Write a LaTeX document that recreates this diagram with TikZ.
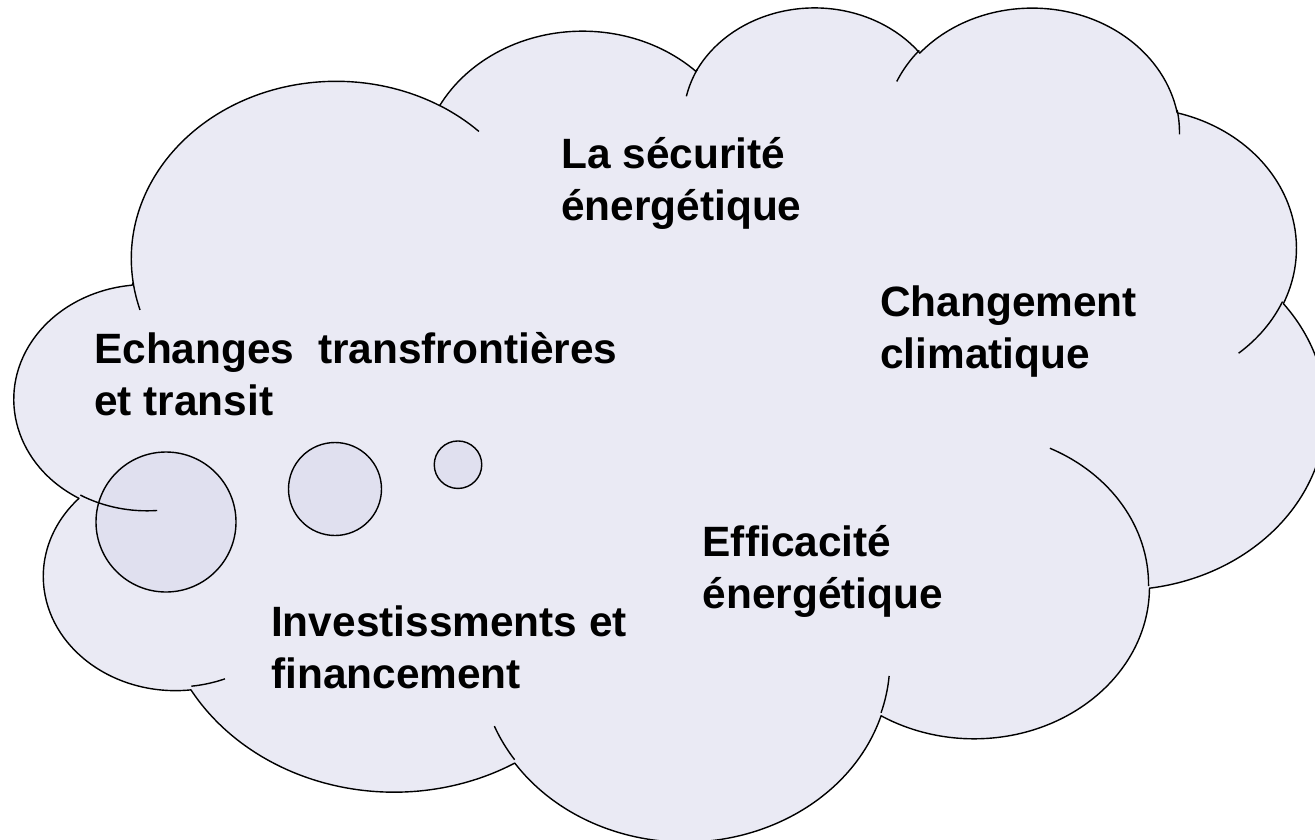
\documentclass[tikz,border=0pt]{standalone}
\usepackage{fontspec}
\setmainfont{Liberation Sans}
\definecolor{cloudfill}{RGB}{234,234,244}
\definecolor{bubblefill}{RGB}{224,224,239}
% shape frame (pixels): left, top, scale per path unit
\def\ox{14.9}\def\oy{5.2}\def\sx{0.030327}\def\sy{0.019302}
\def\sxh{3.0327}\def\syh{1.9302}
% OOXML arcTo: #1 wR, #2 hR, #3 start angle (visual), #4 swing
\newcommand\carc[4]{arc[start angle={0-atan2((#1)*sin(#3),(#2)*cos(#3))},
  delta angle={0-mod(atan2((#1)*sin((#3)+(#4)),(#2)*cos((#3)+(#4)))-atan2((#1)*sin(#3),(#2)*cos(#3))+720,360)},
  x radius={(#1)*\sx*1pt}, y radius={(#2)*\sy*1pt}]}
% point in path units / 100
\newcommand\cpt[2]{({\ox+\sxh*(#1)},{0-(\oy+\syh*(#2))})}
\tikzset{
  cloudline/.style={draw=black, line width=1.4pt, line join=round},
  bubble/.style={circle, draw=black, line width=1.4pt, fill=bubblefill, inner sep=0pt},
  label/.style={anchor=base west, align=left, inner sep=0pt,
    font=\fontsize{42.4}{52}\selectfont\bfseries, text=black},
}
\begin{document}
\begin{tikzpicture}[x=1pt,y=1pt]
\useasboundingbox (0,0) rectangle (1315,-839);
\clip (0,0) rectangle (1315,-839);
% cloud body
\path[cloudline, fill=cloudfill] \cpt{39.00}{143.70}
  \carc{6753}{9190}{-190.48748}{123.78053}
  \carc{5333}{7267}{-144.10238}{89.94523}
  \carc{4365}{5945}{-145.80792}{99.72302}
  \carc{4857}{6595}{-130.98607}{117.24173}
  \carc{5333}{7273}{-78.70888}{109.02692}
  \carc{6775}{9220}{-46.26725}{130.269}
  \carc{5785}{7867}{0.62502}{114.03333}
  \carc{6752}{9215}{22.4516}{115.17255}
  \carc{7720}{10543}{66.24263}{75.71102}
  \carc{4360}{5918}{-274.94208}{146.73557}
  \carc{4345}{5945}{-246.8285}{152.51885}
  -- cycle;
% thought bubbles
\node[bubble, minimum size=140pt] (b1) at (166,-522) {};
\node[bubble, minimum size=93pt] (b2) at (335,-489) {};
\node[bubble, minimum size=47.5pt] (b3) at (458,-464.7) {};
% inner arcs of the cloud
\draw[cloudline]
  \cpt{46.93}{261.77} \carc{4345}{5945}{86.742}{26.4295}
  \cpt{69.28}{348.99} \carc{4360}{5918}{73.6105}{11.4475}
  \cpt{164.78}{390.90} \carc{6752}{9215}{137.6242}{14.0811}
  \cpt{288.27}{347.51} \carc{6752}{9215}{6.4533}{15.9984}
  \cpt{341.29}{229.54} \carc{5785}{7867}{-70.2924}{70.9174}
  \cpt{417.98}{153.54} \carc{5333}{7273}{30.318}{27.7515}
  \cpt{383.24}{54.26} \carc{4857}{6595}{-13.7443}{14.8576}
  \cpt{290.78}{39.52} \carc{4857}{6595}{-149.1815}{18.1954}
  \cpt{221.41}{47.20} \carc{4365}{5945}{-163.4943}{17.6864}
  \cpt{140.00}{51.92} \carc{6753}{9190}{-66.707}{12.3194}
  \cpt{41.27}{157.89} \carc{6753}{9190}{157.6544}{11.8582};
% texts (anchor = baseline of the last line)
\node[label] (secu) at (561,-220) {La sécurité\\énergétique};
\node[label] (clim) at (880,-368) {Changement\\climatique};
\node[label] (echg) at (94,-415) {Echanges\ \ transfrontières\\et transit};
\node[label] (effi) at (702.5,-608) {Efficacité\\énergétique};
\node[label] (inve) at (271,-688) {Investissments et\\financement};
\end{tikzpicture}
\end{document}
